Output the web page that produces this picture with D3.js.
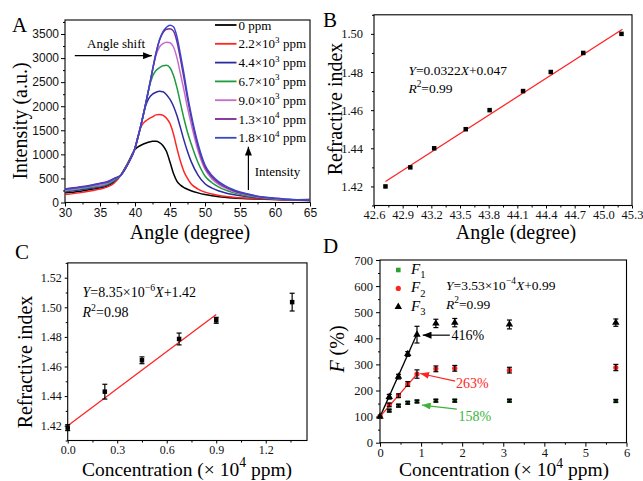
<!DOCTYPE html>
<html lang="en">
<head>
<meta charset="UTF-8">
<title>SPR response</title>
<style>
  body { margin: 0; background: #fff; }
  .ax line { stroke: #000; stroke-width: 1; }
</style>
</head>
<body>
<script src="https://d3js.org/d3.v7.min.js"></script>
<script>
// ---- panel A: spectra ----
const angles = [30, 32, 34, 35, 36, 37, 38, 39, 40, 40.5, 41, 41.5, 42, 42.5, 43, 43.5, 44, 44.5,
  45, 45.5, 46, 46.5, 47, 47.5, 48, 49, 50, 51, 52, 54, 56, 58, 60, 62, 65];
const ppm0 = [200, 230, 280, 300, 340, 420, 580, 830, 1100, 1160, 1200, 1230, 1255, 1270, 1270, 1245, 1180, 1060,
  840, 600, 440, 360, 310, 275, 245, 200, 165, 140, 120, 95, 80, 70, 60, 55, 60];
const ppm2k2 = [165, 200, 250, 280, 320, 400, 570, 810, 1120, 1420, 1610, 1690, 1740, 1780, 1820, 1830, 1810, 1750,
  1640, 1420, 1120, 850, 640, 500, 390, 280, 215, 175, 145, 110, 90, 75, 60, 50, 40];
const ppm4k4 = [220, 260, 300, 320, 360, 440, 570, 810, 1130, 1400, 1700, 2000, 2170, 2250, 2290, 2310, 2300, 2240,
  2140, 2000, 1800, 1550, 1290, 1060, 860, 570, 390, 300, 240, 165, 120, 90, 70, 55, 40];
const ppm6k7 = [240, 280, 320, 340, 380, 460, 570, 810, 1130, 1400, 1700, 2030, 2380, 2620, 2740, 2800, 2840, 2850,
  2800, 2640, 2380, 2060, 1740, 1460, 1230, 830, 550, 410, 320, 205, 140, 100, 75, 55, 40];
const ppm9k0 = [250, 290, 340, 360, 400, 480, 570, 810, 1130, 1400, 1700, 2030, 2380, 2750, 3060, 3230, 3300, 3330,
  3320, 3230, 3000, 2670, 2330, 1970, 1650, 1080, 690, 490, 370, 235, 160, 110, 80, 60, 45];
const ppm13k = [280, 320, 370, 400, 430, 500, 570, 800, 1130, 1400, 1700, 2030, 2380, 2750, 3100, 3370, 3530, 3600,
  3610, 3560, 3340, 2980, 2580, 2160, 1790, 1170, 740, 530, 400, 250, 170, 115, 85, 60, 45];
const ppm18k = [270, 310, 360, 390, 420, 490, 570, 800, 1130, 1400, 1700, 2030, 2380, 2750, 3100, 3380, 3550, 3640,
  3680, 3650, 3440, 3070, 2670, 2230, 1850, 1220, 780, 560, 430, 270, 180, 120, 90, 65, 50];
const spectra = [ppm0, ppm2k2, ppm4k4, ppm6k7, ppm9k0, ppm13k, ppm18k];
const legendMant = ['0', '2.2', '4.4', '6.7', '9.0', '1.3', '1.8'];
const legendExp = [null, '3', '3', '3', '3', '4', '4'];
const specColors = ['#000000', '#ff2424', '#2c2c9e', '#1f9a3c', '#c46ccc', '#7b2692', '#3a48c8'];
const aXTicks = [30, 35, 40, 45, 50, 55, 60, 65];
const aYTicks = [0, 500, 1000, 1500, 2000, 2500, 3000, 3500];

// ---- panel B: refractive index vs angle ----
const bAngle = [42.72, 42.98, 43.23, 43.56, 43.81, 44.16, 44.45, 44.79, 45.19];
const bIndex = [1.42, 1.43, 1.44, 1.45, 1.46, 1.47, 1.48, 1.49, 1.50];
const bFit = [0.0322, 0.047];          // slope, intercept
const bFitRange = [42.72, 45.2];
const bXTicks = [42.6, 42.9, 43.2, 43.5, 43.8, 44.1, 44.4, 44.7, 45.0, 45.3];
const bYTicks = [1.42, 1.44, 1.46, 1.48, 1.50];

// ---- panel C: refractive index vs concentration ----
const cConc = [0, 0.225, 0.45, 0.675, 0.9, 1.36];
const cIndex = [1.4187, 1.443, 1.4642, 1.4786, 1.4912, 1.5035];
const cErr = [0.002, 0.005, 0.0023, 0.004, 0.002, 0.006];
const cFit = [8.35e-6, 1.42];          // slope per ppm, intercept
const cFitRange = [0, 0.9];
const cXTicks = [0, 0.3, 0.6, 0.9, 1.2];
const cYTicks = [1.42, 1.44, 1.46, 1.48, 1.50, 1.52];

// ---- panel D: F vs concentration ----
const dConc = [0, 0.225, 0.45, 0.675, 0.9, 1.36, 1.82, 3.15, 5.74];
const f1 = [100, 123, 142, 153, 158, 161, 161, 161, 160];
const f1Err = [0, 5, 5, 5, 5, 5, 5, 5, 5];
const f2 = [100, 145, 180, 225, 263, 283, 285, 278, 288];
const f2Err = [0, 7, 7, 9, 16, 11, 11, 11, 12];
const f3 = [100, 176, 253, 340, 414, 457, 460, 453, 460];
const f3Err = [0, 9, 9, 9, 32, 16, 16, 17, 14];
const f3Fit = [3.53e-4, 0.99];         // slope per ppm, intercept (fraction)
const f2FitEnds = [[0, 100], [0.9, 263]];
const dXTicks = [0, 1, 2, 3, 4, 5, 6];
const dYTicks = [0, 100, 200, 300, 400, 500, 600, 700];

const serif = '"Liberation Serif", "Times New Roman", serif';
const sans = '"Liberation Sans", Arial, sans-serif';

const svg = d3.select('body').append('svg').attr('width', 643).attr('height', 481);
svg.append('rect').attr('width', 643).attr('height', 481).attr('fill', '#fff');

// arrow heads
const defs = svg.append('defs');
[['k', '#000'], ['r', '#ff2424'], ['g', '#3cb43c']].forEach(([id, c]) => {
  defs.append('marker').attr('id', 'ah-' + id)
    .attr('viewBox', '0 0 10 8').attr('refX', 10).attr('refY', 4)
    .attr('markerWidth', 9).attr('markerHeight', 7).attr('markerUnits', 'userSpaceOnUse')
    .attr('orient', 'auto')
    .append('path').attr('d', 'M0,0L10,4L0,8Z').attr('fill', c);
});

// text with italic / super / subscript pieces
function rich(sel, parts, size) {
  let shift = 0;
  parts.forEach(p => {
    if (typeof p === 'string') p = { t: p };
    const s = sel.append('tspan').text(p.t);
    const target = p.sup ? -0.42 * size : p.sub ? 0.28 * size : 0;
    if (target !== shift) s.attr('dy', target - shift);
    shift = target;
    if (p.sup || p.sub) s.attr('font-size', size * 0.7);
    if (p.i) s.attr('font-style', 'italic');
  });
  return sel;
}

function label(x, y, size, parts, opts = {}) {
  const t = svg.append('text').attr('x', x).attr('y', y)
    .attr('font-family', opts.font || serif).attr('font-size', size)
    .attr('fill', opts.fill || '#000')
    .attr('text-anchor', opts.anchor || 'start');
  if (opts.rotate) t.attr('transform', `rotate(-90,${x},${y})`);
  return rich(t, parts, size);
}

function frame(x, y, o) {
  const g = svg.append('g').attr('class', 'ax');
  const [x0, x1] = x.range(), [y0, y1] = y.range();
  g.append('g').attr('transform', `translate(0,${y0})`)
    .call(d3.axisBottom(x).tickValues(o.xt).tickFormat(o.xf).tickSize(o.ts).tickSizeOuter(0).tickPadding(o.xp));
  g.append('g').attr('transform', `translate(0,${y0})`)
    .call(d3.axisBottom(x).tickValues(o.xm).tickFormat('').tickSize(2).tickSizeOuter(0));
  g.append('g').attr('transform', `translate(${x0},0)`)
    .call(d3.axisLeft(y).tickValues(o.yt).tickFormat(o.yf).tickSize(o.ts).tickSizeOuter(0).tickPadding(o.yp));
  g.append('g').attr('transform', `translate(${x0},0)`)
    .call(d3.axisLeft(y).tickValues(o.ym).tickFormat('').tickSize(2).tickSizeOuter(0));
  g.selectAll('.domain').remove();
  g.selectAll('text').attr('font-family', o.font).attr('font-size', o.fs).attr('fill', '#111');
  g.append('rect').attr('x', x0).attr('y', y1).attr('width', x1 - x0).attr('height', y0 - y1)
    .attr('fill', 'none').attr('stroke', '#000').attr('stroke-width', 1.1);
}

function errBars(x, y, xs, ys, es, cap) {
  const g = svg.append('g').attr('stroke', '#000').attr('stroke-width', 1.2);
  xs.forEach((v, i) => {
    if (!es[i]) return;
    const cx = x(v), top = y(ys[i] + es[i]), bot = y(ys[i] - es[i]);
    g.append('line').attr('x1', cx).attr('x2', cx).attr('y1', top).attr('y2', bot);
    g.append('line').attr('x1', cx - cap).attr('x2', cx + cap).attr('y1', top).attr('y2', top);
    g.append('line').attr('x1', cx - cap).attr('x2', cx + cap).attr('y1', bot).attr('y2', bot);
  });
}

function squares(x, y, xs, ys, size, fill) {
  svg.append('g').selectAll('rect').data(xs).join('rect')
    .attr('x', (d) => x(d) - size / 2).attr('y', (d, i) => y(ys[i]) - size / 2)
    .attr('width', size).attr('height', size).attr('fill', fill);
}

// ================= Panel A =================
const xA = d3.scaleLinear().domain([30, 65]).range([65, 310]);
const yA = d3.scaleLinear().domain([0, 3791]).range([202.5, 20]);
frame(xA, yA, {
  xt: aXTicks, xm: aXTicks.slice(0, -1).map(v => v + 2.5), xf: d3.format('d'),
  yt: aYTicks, ym: aYTicks.map(v => v + 250), yf: d3.format('d'),
  ts: 4, xp: 2, yp: 2, font: sans, fs: 12
});
const lineA = d3.line().x((d, i) => xA(angles[i])).y(d => yA(d)).curve(d3.curveMonotoneX);
spectra.forEach((s, k) => {
  svg.append('path').attr('d', lineA(s)).attr('fill', 'none')
    .attr('stroke', specColors[k]).attr('stroke-width', 1.5);
});
// legend
legendMant.forEach((m, k) => {
  const ry = 25 + k * 18.8;
  svg.append('line').attr('x1', 215).attr('x2', 236.5).attr('y1', ry).attr('y2', ry)
    .attr('stroke', specColors[k]).attr('stroke-width', 1.8);
  const parts = legendExp[k] ? [m + '×10', { t: legendExp[k], sup: true }, ' ppm'] : [m + ' ppm'];
  label(238.5, ry + 4.5, 13, parts);
});
// annotations
svg.append('line').attr('x1', xA(31.4)).attr('x2', xA(42.4)).attr('y1', yA(3050)).attr('y2', yA(3050))
  .attr('stroke', '#000').attr('stroke-width', 1.2).attr('marker-end', 'url(#ah-k)');
label(xA(37.3), yA(3215), 13, ['Angle shift'], { anchor: 'middle' });
svg.append('line').attr('x1', xA(56.2)).attr('x2', xA(56.2)).attr('y1', yA(260)).attr('y2', yA(1160))
  .attr('stroke', '#000').attr('stroke-width', 1.2).attr('marker-end', 'url(#ah-k)');
label(xA(57.1), yA(550), 13, ['Intensity']);
label(12, 31.5, 21, ['A']);
label(27, 121, 20, ['Intensity (a.u.)'], { anchor: 'middle', rotate: true });
label(190, 239, 20, ['Angle (degree)'], { anchor: 'middle' });

// ================= Panel B =================
const xB = d3.scaleLinear().domain([42.6, 45.3]).range([374, 632]);
const yB = d3.scaleLinear().domain([1.41, 1.51]).range([205.5, 14.8]);
frame(xB, yB, {
  xt: bXTicks, xm: bXTicks.slice(0, -1).map(v => v + 0.15), xf: d3.format('.1f'),
  yt: bYTicks, ym: [1.41, 1.43, 1.45, 1.47, 1.49, 1.51], yf: d3.format('.2f'),
  ts: 3, xp: 2, yp: 8, font: serif, fs: 12.5
});
svg.append('line')
  .attr('x1', xB(bFitRange[0])).attr('y1', yB(bFit[0] * bFitRange[0] + bFit[1]))
  .attr('x2', xB(bFitRange[1])).attr('y2', yB(bFit[0] * bFitRange[1] + bFit[1]))
  .attr('stroke', '#ff2424').attr('stroke-width', 1.3);
squares(xB, yB, bAngle, bIndex, 4.5, '#000');
label(xB(42.96), yB(1.4786), 13.5, [{ t: 'Y', i: true }, '=0.0322', { t: 'X', i: true }, '+0.047']);
label(xB(42.96), yB(1.4692), 13.5, [{ t: 'R', i: true }, { t: '2', sup: true }, '=0.99']);
label(323, 27, 21, ['B']);
label(342, 109, 20, ['Refractive index'], { anchor: 'middle', rotate: true });
label(516, 239, 20, ['Angle (degree)'], { anchor: 'middle' });

// ================= Panel C =================
const xC = d3.scaleLinear().domain([0, 1.45]).range([67.7, 307]);
const yC = d3.scaleLinear().domain([1.41, 1.53]).range([440.5, 262.9]);
frame(xC, yC, {
  xt: cXTicks, xm: [0.15, 0.45, 0.75, 1.05, 1.35], xf: d3.format('.1f'),
  yt: cYTicks, ym: [1.41, 1.43, 1.45, 1.47, 1.49, 1.51, 1.53], yf: d3.format('.2f'),
  ts: 3, xp: 2, yp: 3, font: serif, fs: 12
});
svg.append('line')
  .attr('x1', xC(cFitRange[0])).attr('y1', yC(cFit[0] * cFitRange[0] * 1e4 + cFit[1]))
  .attr('x2', xC(cFitRange[1])).attr('y2', yC(cFit[0] * cFitRange[1] * 1e4 + cFit[1]))
  .attr('stroke', '#ff2424').attr('stroke-width', 1.3);
errBars(xC, yC, cConc, cIndex, cErr, 2.5);
squares(xC, yC, cConc, cIndex, 4.5, '#000');
label(xC(0.09), yC(1.5071), 14, [{ t: 'Y', i: true }, '=8.35×10', { t: '−6', sup: true }, { t: 'X', i: true }, '+1.42']);
label(xC(0.09), yC(1.4935), 14, [{ t: 'R', i: true }, { t: '2', sup: true }, '=0.98']);
label(15, 259, 21, ['C']);
label(32, 362, 20, ['Refractive index'], { anchor: 'middle', rotate: true });
label(187, 475.5, 19.5, ['Concentration (× 10', { t: '4', sup: true }, ' ppm)'], { anchor: 'middle' });

// ================= Panel D =================
const xD = d3.scaleLinear().domain([0, 6]).range([380, 626.5]);
const yD = d3.scaleLinear().domain([0, 700]).range([442.7, 260]);
frame(xD, yD, {
  xt: dXTicks, xm: [0.5, 1.5, 2.5, 3.5, 4.5, 5.5], xf: d3.format('d'),
  yt: dYTicks, ym: [50, 150, 250, 350, 450, 550, 650], yf: d3.format('d'),
  ts: 4, xp: 1.5, yp: 3, font: serif, fs: 12.5
});
svg.append('line')
  .attr('x1', xD(0)).attr('y1', yD(100 * (f3Fit[0] * 0 + f3Fit[1])))
  .attr('x2', xD(0.9)).attr('y2', yD(100 * (f3Fit[0] * 0.9e4 + f3Fit[1])))
  .attr('stroke', '#000').attr('stroke-width', 1.3);
svg.append('line')
  .attr('x1', xD(f2FitEnds[0][0])).attr('y1', yD(f2FitEnds[0][1]))
  .attr('x2', xD(f2FitEnds[1][0])).attr('y2', yD(f2FitEnds[1][1]))
  .attr('stroke', '#ff2424').attr('stroke-width', 1.3);
// markers
squares(xD, yD, dConc, f1, 4.5, '#1d4a1d');
svg.append('g').selectAll('circle').data(dConc).join('circle')
  .attr('cx', d => xD(d)).attr('cy', (d, i) => yD(f2[i])).attr('r', 2.6).attr('fill', '#ff2424');
const tri = d3.symbol().type(d3.symbolTriangle).size(24);
svg.append('g').selectAll('path').data(dConc).join('path')
  .attr('transform', (d, i) => `translate(${xD(d)},${yD(f3[i])})`).attr('d', tri).attr('fill', '#000');
errBars(xD, yD, dConc, f1, f1Err, 2.5);
errBars(xD, yD, dConc, f2, f2Err, 2.5);
errBars(xD, yD, dConc, f3, f3Err, 2.5);
// legend
['1', '2', '3'].forEach((n, k) => {
  const lx = 398.3, ly = 270 + k * 18.4;
  if (k === 0) svg.append('rect').attr('x', lx - 2.3).attr('y', ly - 2.3).attr('width', 4.6).attr('height', 4.6).attr('fill', '#2ea02e');
  if (k === 1) svg.append('circle').attr('cx', lx).attr('cy', ly).attr('r', 2.6).attr('fill', '#ff2424');
  if (k === 2) svg.append('path').attr('transform', `translate(${lx},${ly})`).attr('d', tri).attr('fill', '#000');
  label(411, ly + 4, 15, [{ t: 'F', i: true }, { t: n, sub: true }]);
});
label(446, 290, 13.5, [{ t: 'Y', i: true }, '=3.53×10', { t: '−4', sup: true }, { t: 'X', i: true }, '+0.99']);
label(446, 309, 13.5, [{ t: 'R', i: true }, { t: '2', sup: true }, '=0.99']);
// arrows and percentages
svg.append('line').attr('x1', xD(1.70)).attr('y1', yD(412)).attr('x2', xD(1.04)).attr('y2', yD(412))
  .attr('stroke', '#000').attr('stroke-width', 1.2).attr('marker-end', 'url(#ah-k)');
label(xD(1.74), yD(393), 14, ['416%']);
svg.append('line').attr('x1', xD(1.83)).attr('y1', yD(236)).attr('x2', xD(0.98)).attr('y2', yD(265))
  .attr('stroke', '#ff2424').attr('stroke-width', 1.2).attr('marker-end', 'url(#ah-r)');
label(xD(1.85), yD(209), 14, ['263%'], { fill: '#ff2424' });
svg.append('line').attr('x1', xD(1.87)).attr('y1', yD(129)).attr('x2', xD(1.02)).attr('y2', yD(144))
  .attr('stroke', '#3cb43c').attr('stroke-width', 1.2).attr('marker-end', 'url(#ah-g)');
label(xD(1.91), yD(84), 14, ['158%'], { fill: '#3cb43c' });
label(323, 253, 21, ['D']);
label(344, 349, 20, [{ t: 'F', i: true }, ' (%)'], { anchor: 'middle', rotate: true });
label(504, 476, 19.5, ['Concentration (× 10', { t: '4', sup: true }, ' ppm)'], { anchor: 'middle' });
</script>
</body>
</html>
